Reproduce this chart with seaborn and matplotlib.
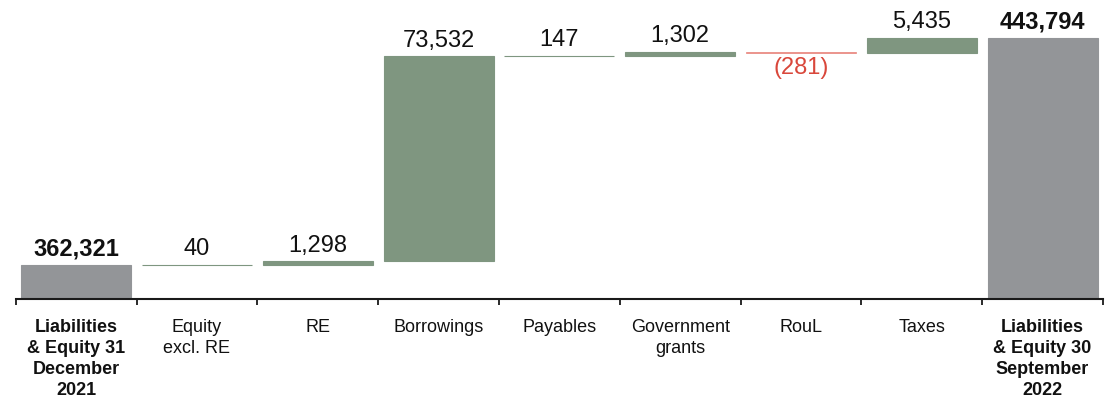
import numpy as np
import pandas as pd
import matplotlib
matplotlib.use("Agg")
import matplotlib.pyplot as plt
from matplotlib.ticker import FixedLocator
import seaborn as sns

# Waterfall: liabilities & equity bridge (thousands)
categories = [
    "Liabilities\n& Equity 31\nDecember\n2021",
    "Equity\nexcl. RE",
    "RE",
    "Borrowings",
    "Payables",
    "Government\ngrants",
    "RouL",
    "Taxes",
    "Liabilities\n& Equity 30\nSeptember\n2022",
]
opening_total = 362321
changes = [40, 1298, 73532, 147, 1302, -281, 5435]
closing_total = 443794
value_labels = ["362,321", "40", "1,298", "73,532", "147", "1,302", "(281)", "5,435", "443,794"]

AXIS_FLOOR = 350000
GREY = "#939598"
GREEN = "#7f9680"
RED = "#d9473b"
RED_BAR = "#e8847c"
INK = "#1a1a1a"

# Build floating bars: each step starts where the running total left off
running = opening_total
bottoms, heights, colors, kinds = [AXIS_FLOOR], [opening_total - AXIS_FLOOR], [GREY], ["total"]
for c in changes:
    lo = running if c >= 0 else running + c
    bottoms.append(lo)
    heights.append(abs(c))
    colors.append(GREEN if c >= 0 else RED_BAR)
    kinds.append("up" if c >= 0 else "down")
    running += c
bottoms.append(AXIS_FLOOR)
heights.append(closing_total - AXIS_FLOOR)
colors.append(GREY)
kinds.append("total")

df = pd.DataFrame({"step": categories, "height": heights, "bottom": bottoms})

sns.set_theme(style="white")
plt.rcParams["font.family"] = ["Liberation Sans", "DejaVu Sans"]

fig = plt.figure(figsize=(11.15, 3.99), dpi=100)
ax = fig.add_axes([0.0141, 0.2494, 0.9751, 0.7506])

sns.barplot(data=df, x="step", y="height", order=categories, bottom=df["bottom"].to_numpy(),
            width=0.91, errorbar=None, color=GREEN, ax=ax)

for patch, col, kind in zip(ax.patches, colors, kinds):
    patch.set_facecolor(col)
    patch.set_edgecolor(col)
    patch.set_linewidth(0.5 if kind == "down" else 0.8)

ax.set_ylim(AXIS_FLOOR, 457300)
ax.set_xlim(-0.5, len(categories) - 0.5)

# Value labels above rising bars, below falling ones
for i, (b, h, kind, txt) in enumerate(zip(bottoms, heights, kinds, value_labels)):
    if kind == "down":
        ax.annotate(txt, (i, b), xytext=(0, -3.3), textcoords="offset points",
                    ha="center", va="top", fontsize=17, color=RED)
    else:
        ax.annotate(txt, (i, b + h), xytext=(0, 3.3), textcoords="offset points",
                    ha="center", va="bottom", fontsize=17, color="#111111",
                    fontweight="bold" if kind == "total" else "normal")

# Axis: boundary tick marks, category labels centred between them
ax.xaxis.set_major_locator(FixedLocator(np.arange(-0.5, len(categories), 1.0)))
ax.xaxis.set_minor_locator(FixedLocator(np.arange(len(categories))))
ax.set_xticklabels([], minor=False)
ax.set_xticklabels(categories, minor=True)
ax.tick_params(axis="x", which="major", direction="out", length=4.3, width=1.3, color=INK, bottom=True)
ax.tick_params(axis="x", which="minor", length=0, pad=14, labelsize=13, labelcolor="#111111")
for lbl, kind in zip(ax.get_xticklabels(minor=True), kinds):
    lbl.set_linespacing(1.32)
    if kind == "total":
        lbl.set_fontweight("bold")

ax.set_xlabel("")
ax.set_ylabel("")
ax.set_yticks([])
for side in ["top", "right", "left"]:
    ax.spines[side].set_visible(False)
ax.spines["bottom"].set_color(INK)
ax.spines["bottom"].set_linewidth(1.5)

fig.savefig("out.png", dpi=100)
